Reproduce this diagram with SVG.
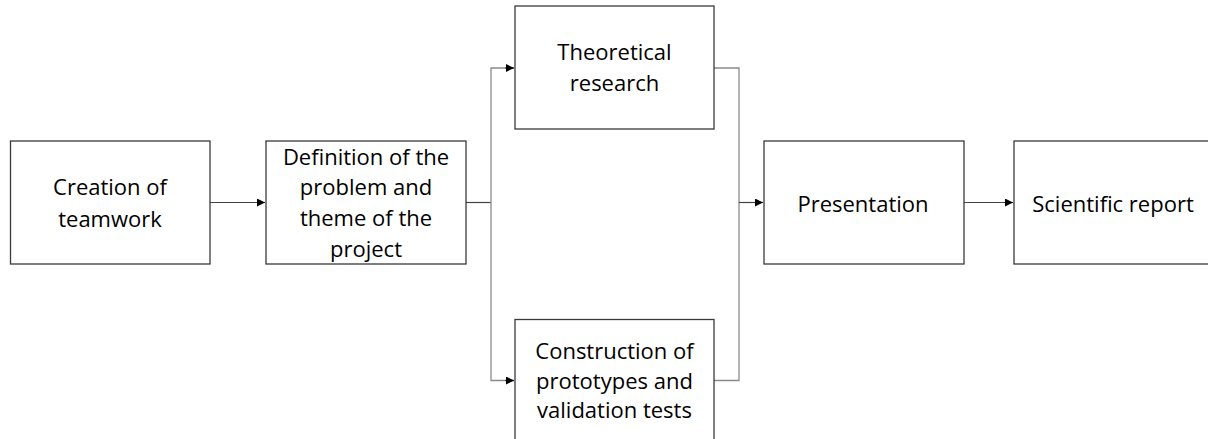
<svg xmlns="http://www.w3.org/2000/svg" width="1208" height="439" viewBox="0 0 1208 439">
<style>
.box{fill:#fff;stroke:#3a3a3a;stroke-width:1.3}
.t{font-family:"Open Sans","Liberation Sans",sans-serif;font-size:22px;fill:#000;text-anchor:middle}
.c{fill:none;stroke:#444;stroke-width:1.2}
.g{fill:none;stroke:#8a8a8a;stroke-width:1.3}
</style>
<defs>
<marker id="ah" viewBox="0 0 10 10" refX="10" refY="5" markerWidth="8" markerHeight="8" markerUnits="userSpaceOnUse" orient="auto">
<path d="M0,0 L10,5 L0,10 z" fill="#000"/>
</marker>
</defs>
<rect width="1208" height="439" fill="#fff"/>
<g id="connectors">
<line class="c" x1="210" y1="202.5" x2="265" y2="202.5" marker-end="url(#ah)"/>
<line class="c" x1="466" y1="202.5" x2="491" y2="202.5"/>
<polyline class="g" points="514,68 491,68 491,380.5 514,380.5"/>
<line class="c" x1="505" y1="68" x2="514" y2="68" marker-end="url(#ah)"/>
<line class="c" x1="505" y1="380.5" x2="514" y2="380.5" marker-end="url(#ah)"/>
<polyline class="g" points="714,68 739,68 739,380.5 714,380.5"/>
<line class="c" x1="739" y1="202.5" x2="763" y2="202.5" marker-end="url(#ah)"/>
<line class="c" x1="964" y1="202.5" x2="1013" y2="202.5" marker-end="url(#ah)"/>
</g>
<g id="n1">
<rect class="box" x="10.5" y="141" width="199.5" height="123"/>
<text class="t" x="110" y="195">Creation of</text>
<text class="t" x="110" y="227">teamwork</text>
</g>
<g id="n2">
<rect class="box" x="266" y="141" width="200" height="123"/>
<text class="t" x="366" y="165">Definition of the</text>
<text class="t" x="366" y="195">problem and</text>
<text class="t" x="366" y="226">theme of the</text>
<text class="t" x="366" y="257">project</text>
</g>
<g id="n3">
<rect class="box" x="515" y="6" width="199" height="123"/>
<text class="t" x="614.5" y="60">Theoretical</text>
<text class="t" x="614.5" y="91">research</text>
</g>
<g id="n4">
<rect class="box" x="515" y="319.5" width="199" height="130"/>
<text class="t" x="614.5" y="359">Construction of</text>
<text class="t" x="614.5" y="389">prototypes and</text>
<text class="t" x="614.5" y="418">validation tests</text>
</g>
<g id="n5">
<rect class="box" x="764" y="141" width="200" height="123"/>
<text class="t" x="863" y="212">Presentation</text>
</g>
<g id="n6">
<rect class="box" x="1014" y="141" width="200" height="123"/>
<text class="t" x="1113" y="212">Scientific report</text>
</g>
</svg>
